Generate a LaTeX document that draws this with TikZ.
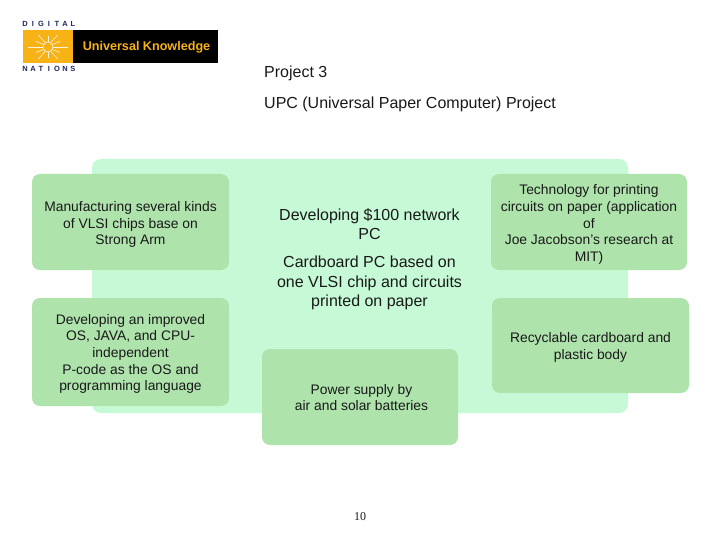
\documentclass[tikz,border=0pt]{standalone}
\usepackage{fontspec}
\setmainfont{Liberation Sans}
\newfontfamily\serifnum{Liberation Serif}
\definecolor{panelgreen}{RGB}{198,250,214}
\definecolor{boxgreen}{RGB}{174,227,172}
\definecolor{logoyellow}{RGB}{247,178,22}
\definecolor{logonavy}{RGB}{30,40,90}
\definecolor{txt}{RGB}{25,25,25}
\tikzset{
 panel/.style={fill=panelgreen,draw=none,rounded corners=9pt},
 gbox/.style={fill=boxgreen,draw=none,rounded corners=8pt},
 small/.style={align=center,text=txt,font=\fontsize{13.85}{16.7}\selectfont,inner sep=0pt},
 mid/.style={align=center,text=txt,font=\fontsize{16}{19.4}\selectfont,inner sep=0pt},
 head/.style={anchor=west,text=txt,font=\fontsize{16}{18}\selectfont,inner sep=0pt},
 logoletter/.style={text=logonavy,font=\fontsize{7.5}{8}\selectfont\bfseries,inner sep=0pt},
 ray/.style={draw=white!85!logoyellow,line width=0.6pt}
}
\begin{document}
\begin{tikzpicture}[x=1pt,y=-1pt]
\useasboundingbox (0,0) rectangle (720,540);
\fill[white] (0,0) rectangle (720,540);
% logo
\fill[black] (73,30) rectangle (218,63);
\fill[logoyellow] (23,30) rectangle (73,63);
\foreach \a in {0,30,...,330}{
  \draw[ray] ({48+5*cos(\a)},{47+5*sin(\a)}) -- ({48+(mod(\a,60)==0?20:14)*cos(\a)},{47+(mod(\a,60)==0?14:11)*sin(\a)});
}
\draw[ray] (48,47) circle (5);
\node[text=logoyellow,font=\fontsize{12.6}{14}\selectfont\bfseries,inner sep=0pt] (logotext) at (146.5,47) {Universal Knowledge};
\foreach \c [count=\i from 0] in {D,I,G,I,T,A,L}
  \node[logoletter] (dl\i) at ({25+\i*8.0},24) {\c};
\foreach \c [count=\i from 0] in {N,A,T,I,O,N,S}
  \node[logoletter] (nl\i) at ({25+\i*8.0},68.5) {\c};
% headings
\node[head] (h1) at (264,73) {Project 3};
\node[head] (h2) at (264,104) {UPC (Universal Paper Computer) Project};
% panel and boxes
\fill[panel] (92,159) rectangle (628,413);
\fill[gbox] (32,174) rectangle (229,270);
\fill[gbox] (32,298) rectangle (229,406);
\fill[gbox] (491,174) rectangle (687,270);
\fill[gbox] (492,298) rectangle (689,393);
\fill[gbox] (262,349) rectangle (458,445);
% texts
\node[small] (t1) at (130.5,224.5) {Manufacturing several kinds\\of VLSI chips base on\\Strong Arm};
\node[small] (t2) at (130.5,354) {Developing an improved\\OS, JAVA, and CPU-\\independent\\P-code as the OS and\\programming language};
\node[small] (t3) at (589,224.5) {Technology for printing\\circuits on paper (application\\of\\Joe Jacobson's research at\\MIT)};
\node[small] (t4) at (590.5,347.5) {Recyclable cardboard and\\plastic body};
\node[small] (t5) at (361.5,397.5) {Power supply by\\air and solar batteries};
\node[mid] (t6) at (369.5,224) {Developing \$100 network\\PC};
\node[mid] (t7) at (369.5,283) {Cardboard PC based on\\one VLSI chip and circuits\\printed on paper};
\node[text=txt,font=\serifnum\fontsize{12}{14}\selectfont,inner sep=0pt] (pg) at (360,517) {10};
\end{tikzpicture}
\end{document}
